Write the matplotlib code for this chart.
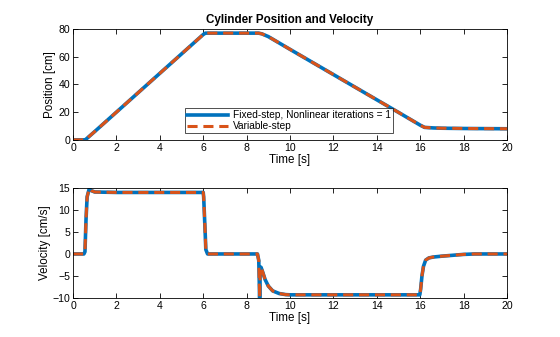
import matplotlib
matplotlib.use('Agg')
import matplotlib.pyplot as plt

plt.rcParams['font.family'] = ['Liberation Sans', 'DejaVu Sans']

# position trace [s], [cm]
t_pos = [0, 0.55, 0.6, 1.0, 2.0, 3.0, 4.0, 5.0, 6.0, 6.1, 6.2, 7.0, 8.0, 8.55,
         8.7, 9.0, 10.0, 11.0, 12.0, 13.0, 14.0, 15.0, 16.0, 16.2, 16.6,
         17.0, 18.0, 19.0, 20.0]
x_fixed = [0, 0, 0.5, 6.0, 20.0, 34.0, 48.0, 62.0, 76.0, 77.0, 77.0, 77.0,
           77.0, 77.0, 76.5, 74.5, 65.3, 56.2, 47.1, 38.0, 28.9, 19.8, 10.6,
           9.0, 8.6, 8.4, 8.2, 8.1, 8.0]
x_var = x_fixed

# velocity trace [s], [cm/s]
t_vel = [0, 0.5, 0.55, 0.6, 0.65, 0.75, 0.85, 1.0, 2.0, 4.0, 6.0, 6.02,
         6.08, 6.12, 6.2, 7.0, 8.0, 8.5, 8.56, 8.6, 8.62, 8.66, 8.72, 8.85,
         9.0, 9.2, 9.5, 9.8, 10.0, 12.0, 14.0, 15.98, 16.02, 16.08, 16.15,
         16.25, 16.4, 16.6, 17.0, 17.5, 18.0, 18.5, 19.0, 20.0]
v_fixed = [0, 0, 0.5, 8.0, 13.0, 14.9, 14.4, 14.1, 14.0, 14.0, 14.0, 13.0,
           6.0, 1.0, 0.0, 0.0, 0.0, 0.0, -1.5, -10.0, -5.0, -3.0, -3.8, -5.8,
           -7.3, -8.4, -9.0, -9.25, -9.3, -9.3, -9.3, -9.3, -8.0, -5.0, -2.8,
           -1.4, -0.9, -0.7, -0.5, -0.3, -0.1, 0.0, 0.0, 0.0]
v_var = v_fixed

blue = '#0072BD'
orange = '#D95319'
dash = (0, (3.3, 1.9))

fig = plt.figure(figsize=(5.6, 3.37), dpi=100)
ax1 = fig.add_axes([0.1304, 0.585, 0.775, 0.329])
ax2 = fig.add_axes([0.1304, 0.116, 0.775, 0.326])

ax1.plot(t_pos, x_fixed, color=blue, lw=2.6, label='Fixed-step, Nonlinear iterations = 1')
ax1.plot(t_pos, x_var, color=orange, lw=2.2, ls=dash, label='Variable-step')
ax2.plot(t_vel, v_fixed, color=blue, lw=2.6)
ax2.plot(t_vel, v_var, color=orange, lw=2.2, ls=dash)

ax1.set_ylim(0, 80)
ax1.set_yticks([0, 20, 40, 60, 80])
ax2.set_ylim(-10, 15)
ax2.set_yticks([-10, -5, 0, 5, 10, 15])

for ax in (ax1, ax2):
    ax.set_xlim(0, 20)
    ax.set_xticks(range(0, 21, 2))
    ax.tick_params(direction='in', top=True, right=True, labelsize=7.6,
                   length=3.5, width=0.6, pad=2)
    ax.set_xlabel('Time [s]', fontsize=8.4, labelpad=1)
    for s in ax.spines.values():
        s.set_linewidth(0.6)

ax1.set_ylabel('Position [cm]', fontsize=8.4, labelpad=2)
ax2.set_ylabel('Velocity [cm/s]', fontsize=8.4, labelpad=1)
ax1.set_title('Cylinder Position and Velocity', fontsize=8.4, fontweight='bold', pad=4)

leg = ax1.legend(loc='lower left', bbox_to_anchor=(0.258, 0.06), fontsize=7.3,
                 frameon=True, fancybox=False, edgecolor='black',
                 handlelength=4.0, borderpad=0.2, labelspacing=0.1,
                 handletextpad=0.5, borderaxespad=0)
leg.get_frame().set_linewidth(0.6)

fig.savefig('out.png', dpi=100)
